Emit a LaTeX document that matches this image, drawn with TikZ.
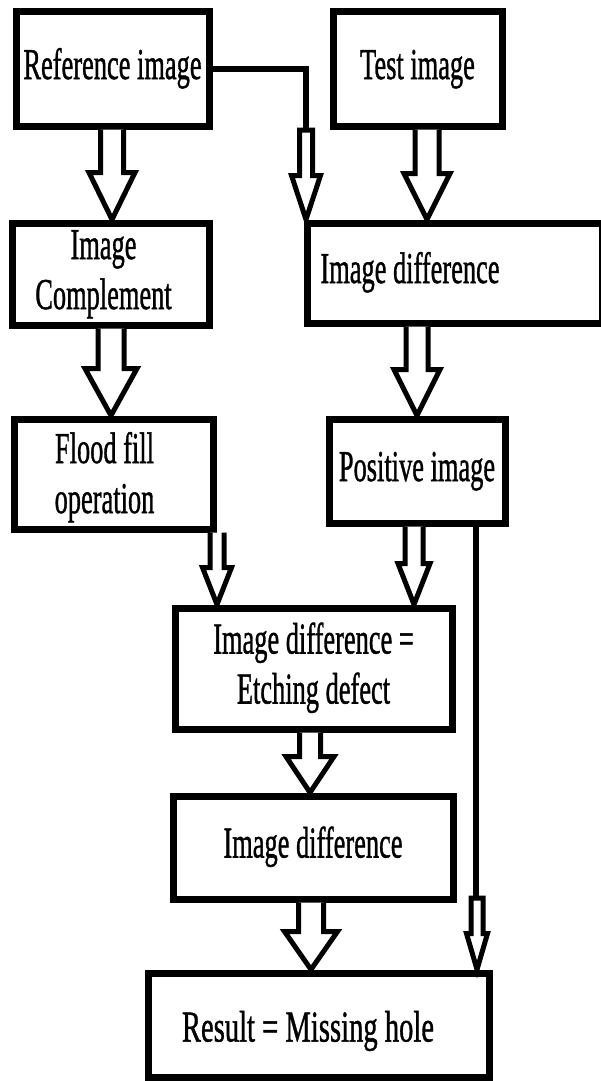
\documentclass[tikz,border=0pt]{standalone}
\usepackage{fontspec}
\setmainfont[FakeBold=1.2]{Liberation Serif}
\usetikzlibrary{calc}
\newcommand\sq[1]{\scalebox{0.6}[1]{\begin{tabular}{@{}c@{}}#1\end{tabular}}}
\newcommand\lowered[2]{\raisebox{-#1}[\height][\depth]{#2}}
% block arrow: x, from, to, shaft half width, head half width, head length
\newcommand\barrow[6]{%
  \filldraw[blk] let \p1=(#2), \p2=(#3) in
  (#1pt-#4pt,\y1) -- (#1pt-#4pt,\y2+#6pt) -- (#1pt-#5pt,\y2+#6pt) -- (#1pt,\y2)
  -- (#1pt+#5pt,\y2+#6pt) -- (#1pt+#4pt,\y2+#6pt) -- (#1pt+#4pt,\y1);}
\newcommand\barrowc[6]{%
  \filldraw[blk] let \p1=(#2), \p2=(#3) in
  (#1pt-#4pt,\y1) -- (#1pt-#4pt,\y2+#6pt) -- (#1pt-#5pt,\y2+#6pt) -- (#1pt,\y2)
  -- (#1pt+#5pt,\y2+#6pt) -- (#1pt+#4pt,\y2+#6pt) -- (#1pt+#4pt,\y1) -- cycle;}
\tikzset{
  box/.style={draw, line width=7pt, inner sep=0pt, fill=white,
    font=\fontsize{44}{50}\selectfont},
  blk/.style={line width=5pt, fill=white, line join=miter},
  conn/.style={line width=6pt}
}
\begin{document}
\begin{tikzpicture}[x=1pt,y=-1pt]
\useasboundingbox (0,0) rectangle (600,1081);
\node[box, minimum width=193pt, minimum height=114pt] (ref) at (112.5,69) {\sq{Reference image}};
\node[box, minimum width=169pt, minimum height=114pt] (test) at (417.5,69) {\sq{Test image}};
\node[box, minimum width=197pt, minimum height=102pt] (comp) at (110.5,274) {\sq{Image\\Complement}\hspace*{14pt}};
\node[box, minimum width=295pt, minimum height=100pt] (diff1) at (454.5,273) {\sq{Image difference}\hspace*{89pt}};
\node[box, minimum width=199pt, minimum height=110pt] (flood) at (113.5,474) {\lowered{4pt}{\sq{Flood fill\\operation}}\hspace*{18pt}};
\node[box, minimum width=176pt, minimum height=104pt] (pos) at (417,471) {\sq{Positive image}};
\node[box, minimum width=277pt, minimum height=121pt] (etch) at (313.5,668.5) {\sq{Image difference =\\Etching defect}};
\node[box, minimum width=280pt, minimum height=103pt] (diff2) at (313,847.5) {\sq{Image difference}};
\node[box, minimum width=341pt, minimum height=104pt] (result) at (319,1025) {\lowered{6pt}{\scalebox{0.65}[1]{Result = Missing hole}}\hspace*{22pt}};

\coordinate (c1) at (306,130);
\coordinate (c2) at (476,898);

\barrow{112}{ref.south}{comp.north}{11.5}{23}{47}
\draw[conn] (ref.east) -| (c1);
\barrowc{306}{c1}{diff1.north}{6.5}{14.5}{44}
\barrow{427}{test.south}{diff1.north}{12}{23}{46}
\barrow{111}{comp.south}{flood.north}{13}{26}{47}
\barrow{417}{diff1.south}{pos.north}{11}{23}{46}
\barrow{217}{flood.south}{etch.north}{7}{14.5}{37}
\barrow{414}{pos.south}{etch.north}{9}{16}{41}
\barrow{310}{etch.south}{diff2.north}{10.5}{24}{36}
\barrow{311}{diff2.south}{result.north}{12.5}{26.5}{38}
\draw[conn] (pos.south -| c2) -- (c2);
\barrowc{477}{c2}{result.north}{6}{10.5}{36}
\end{tikzpicture}
\end{document}
